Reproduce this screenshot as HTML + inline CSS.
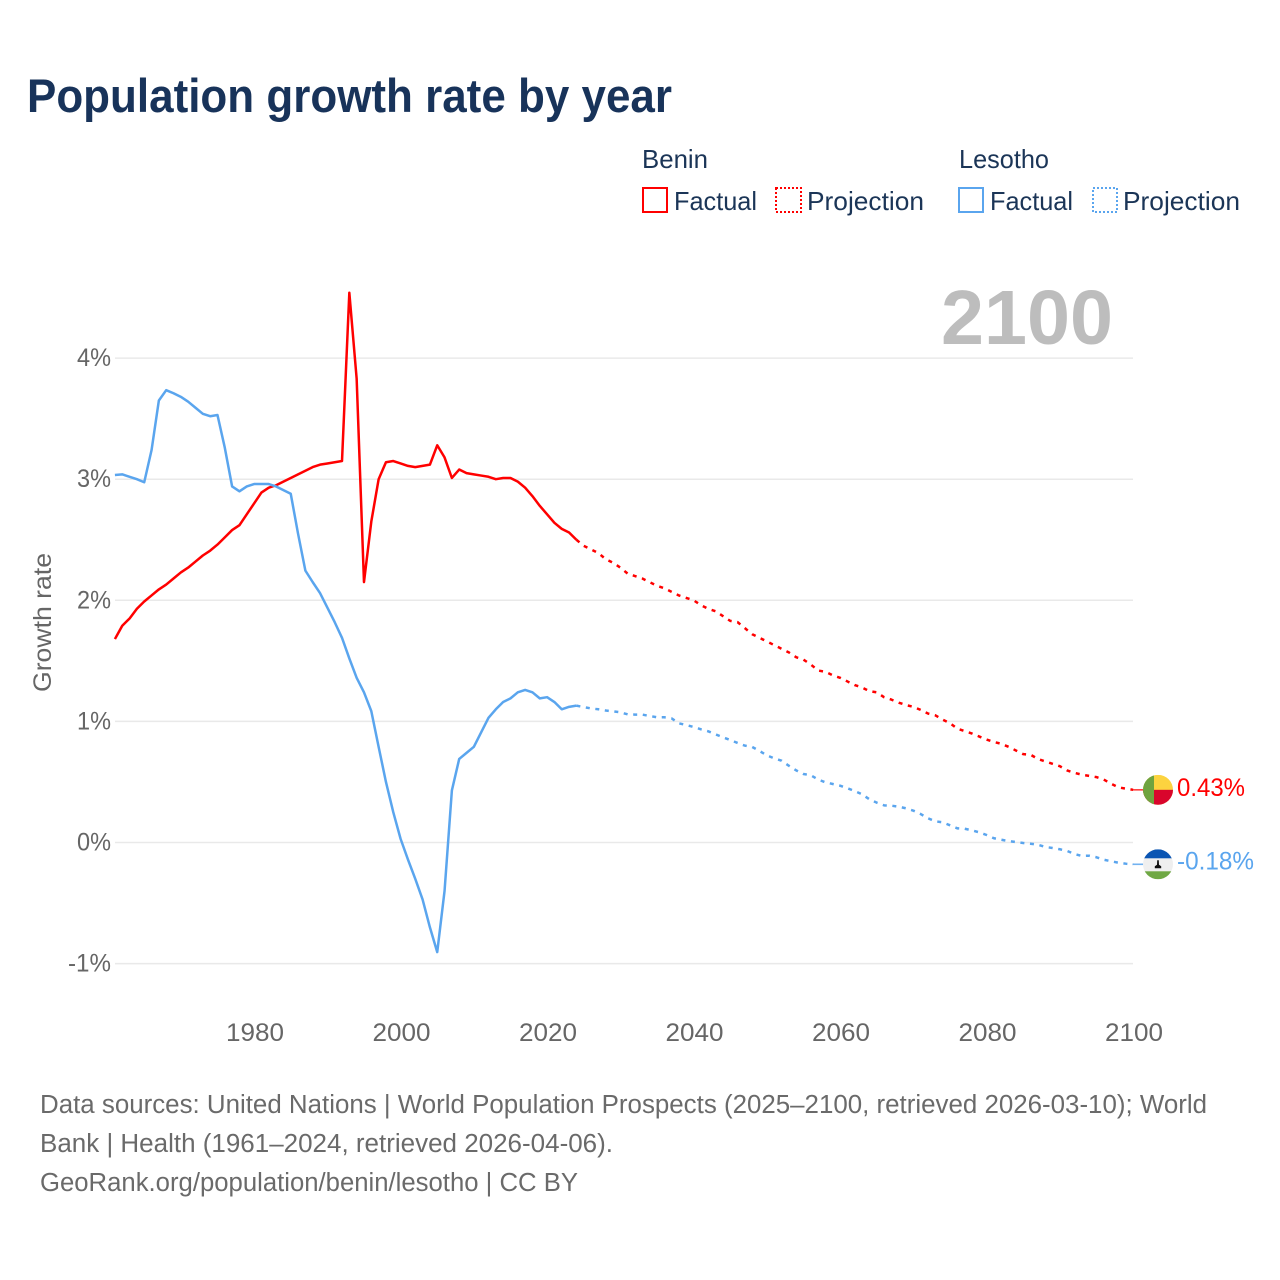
<!DOCTYPE html>
<html lang="en">
<head>
<meta charset="utf-8">
<title>Population growth rate by year</title>
<style>
html,body{margin:0;padding:0;background:#fff;}
svg{display:block;font-family:"Liberation Sans",Arial,sans-serif;}
.title{font-size:47px;font-weight:700;fill:#18335a;}
.legend{font-size:26px;fill:#1b3557;}
.muted{font-size:25px;fill:#666;}
.foot{font-size:25.5px;fill:#6a6a6a;}
</style>
</head>
<body>
<svg id="chart" xmlns="http://www.w3.org/2000/svg" width="1280" height="1280" viewBox="0 0 1280 1280">
  <defs>
    <clipPath id="flag-clip"><circle cx="0" cy="0" r="15"/></clipPath>
  </defs>
  <rect x="0" y="0" width="1280" height="1280" fill="#ffffff"/>
  <text class="title" x="27" y="112" textLength="645" lengthAdjust="spacingAndGlyphs">Population growth rate by year</text>

  <g>
    <text class="legend" x="642" y="168" textLength="66" lengthAdjust="spacingAndGlyphs">Benin</text>
    <text class="legend" x="959" y="168" textLength="90" lengthAdjust="spacingAndGlyphs">Lesotho</text>
    <rect x="643" y="188" width="24" height="24" fill="none" stroke="#ff0000" stroke-width="2"/>
    <text class="legend" x="674" y="210" textLength="83" lengthAdjust="spacingAndGlyphs">Factual</text>
    <rect x="776" y="188" width="25" height="24" fill="none" stroke="#ff0000" stroke-width="2" stroke-dasharray="2 2"/>
    <text class="legend" x="807" y="210" textLength="117" lengthAdjust="spacingAndGlyphs">Projection</text>
    <rect x="959" y="188" width="24" height="24" fill="none" stroke="#5aa5ee" stroke-width="2"/>
    <text class="legend" x="990" y="210" textLength="83" lengthAdjust="spacingAndGlyphs">Factual</text>
    <rect x="1093" y="188" width="24" height="24" fill="none" stroke="#5aa5ee" stroke-width="2" stroke-dasharray="2 2"/>
    <text class="legend" x="1123" y="210" textLength="117" lengthAdjust="spacingAndGlyphs">Projection</text>
  </g>

  <g id="grid"></g>
  <g id="yticks"></g>
  <g id="xticks"></g>

  <text x="941" y="344" font-size="77" font-weight="700" fill="#bdbdbd" textLength="172" lengthAdjust="spacingAndGlyphs">2100</text>

  <text class="muted" transform="translate(51,692) rotate(-90)" x="0" y="0" textLength="139" lengthAdjust="spacingAndGlyphs">Growth rate</text>

  <g id="series"></g>

  <g id="flag-benin">
    <g clip-path="url(#flag-clip)">
      <rect x="-15" y="-15" width="30" height="30" fill="#fcd33f"/>
      <rect x="-15" y="0" width="30" height="15" fill="#d9052c"/>
      <rect x="-15" y="-15" width="11" height="30" fill="#6fa33f"/>
    </g>
  </g>
  <g id="flag-lesotho">
    <g clip-path="url(#flag-clip)">
      <rect x="-15" y="-15" width="30" height="30" fill="#efefef"/>
      <rect x="-15" y="-15" width="30" height="9" fill="#0a55b3"/>
      <rect x="-15" y="7" width="30" height="8" fill="#6fa844"/>
      <path d="M-0.8,-4 L0.8,-4 L1,0.5 L3.2,2 L3.2,4 L-3.2,4 L-3.2,2 L-1,0.5 Z" fill="#111"/>
    </g>
  </g>
  <g id="end-labels"></g>

  <g>
    <text class="foot" x="40" y="1113" textLength="1167" lengthAdjust="spacingAndGlyphs">Data sources: United Nations | World Population Prospects (2025–2100, retrieved 2026-03-10); World</text>
    <text class="foot" x="40" y="1152" textLength="573" lengthAdjust="spacingAndGlyphs">Bank | Health (1961–2024, retrieved 2026-04-06).</text>
    <text class="foot" x="40" y="1191" textLength="538" lengthAdjust="spacingAndGlyphs">GeoRank.org/population/benin/lesotho | CC BY</text>
  </g>
</svg>
<script>
const factualStartYear = 1961;
const projectionStartYear = 2024;
const yearTicks = [1980, 2000, 2020, 2040, 2060, 2080, 2100];
const growthTicks = [4, 3, 2, 1, 0, -1];
const beninFactual = [1.68,1.79,1.85,1.93,1.99,2.04,2.09,2.13,2.18,2.23,2.27,2.32,2.37,2.41,2.46,2.52,2.58,2.62,2.71,2.80,2.89,2.93,2.95,2.98,3.01,3.04,3.07,3.10,3.12,3.13,3.14,3.15,4.54,3.83,2.15,2.65,3.00,3.14,3.15,3.13,3.11,3.10,3.11,3.12,3.28,3.18,3.01,3.08,3.05,3.04,3.03,3.02,3.00,3.01,3.01,2.98,2.93,2.86,2.78,2.71,2.64,2.59,2.56,2.50];
const lesothoFactual = [3.035,3.04,3.02,3.00,2.975,3.24,3.65,3.735,3.71,3.68,3.64,3.59,3.54,3.52,3.53,3.26,2.94,2.90,2.94,2.96,2.96,2.96,2.94,2.91,2.88,2.55,2.245,2.15,2.06,1.94,1.82,1.69,1.52,1.36,1.24,1.085,0.79,0.50,0.25,0.03,-0.14,-0.30,-0.47,-0.70,-0.905,-0.40,0.43,0.69,0.74,0.79,0.91,1.03,1.10,1.16,1.19,1.24,1.26,1.24,1.19,1.20,1.16,1.10,1.12,1.13];
const beninProjection = [2.50,2.45,2.42,2.39,2.34,2.31,2.27,2.22,2.20,2.18,2.15,2.12,2.10,2.07,2.04,2.02,2.00,1.96,1.93,1.91,1.87,1.83,1.82,1.77,1.72,1.69,1.66,1.63,1.60,1.57,1.53,1.51,1.47,1.42,1.41,1.38,1.36,1.33,1.30,1.28,1.25,1.24,1.20,1.18,1.155,1.135,1.12,1.095,1.065,1.05,1.015,0.985,0.94,0.92,0.90,0.875,0.85,0.83,0.815,0.79,0.76,0.73,0.725,0.69,0.67,0.65,0.63,0.595,0.575,0.56,0.55,0.54,0.52,0.485,0.455,0.445,0.435];
const lesothoProjection = [1.13,1.118,1.107,1.10,1.09,1.083,1.075,1.058,1.056,1.056,1.045,1.034,1.034,1.025,0.984,0.97,0.954,0.935,0.918,0.893,0.869,0.846,0.822,0.80,0.789,0.756,0.72,0.695,0.676,0.634,0.596,0.566,0.555,0.52,0.497,0.483,0.469,0.448,0.425,0.398,0.357,0.329,0.307,0.304,0.296,0.282,0.263,0.235,0.20,0.175,0.167,0.142,0.117,0.114,0.10,0.084,0.062,0.035,0.023,0.012,0.004,-0.004,-0.01,-0.018,-0.037,-0.045,-0.056,-0.07,-0.095,-0.111,-0.109,-0.122,-0.142,-0.155,-0.167,-0.175,-0.18];
const endValueLabels = ['0.43%', '-0.18%'];

const xScale = function (year) { return 1133.5 + (year - 2100) * 7.325; };
const yScale = function (value) { return 842.5 - value * 121.1; };
const NS = 'http://www.w3.org/2000/svg';
const COLORS = { benin: '#ff0000', lesotho: '#5aa5ee' };

function make(tag, parentId, attrs) {
  const el = document.createElementNS(NS, tag);
  for (const key in attrs) { el.setAttribute(key, attrs[key]); }
  document.getElementById(parentId).appendChild(el);
  return el;
}
function linePath(values, startYear) {
  return values.map(function (v, i) {
    return (i ? 'L' : 'M') + (xScale(startYear + i) - 0.4).toFixed(2) + ',' + yScale(v).toFixed(2);
  }).join(' ');
}

growthTicks.forEach(function (tick) {
  const gridline = make('line', 'grid', { x1: 115, x2: 1133, y1: yScale(tick), y2: yScale(tick), stroke: '#e9e9e9', 'stroke-width': 1.5 });
  
  
  const label = make('text', 'yticks', { x: 111, y: yScale(tick) + 8, 'text-anchor': 'end', class: 'muted', textLength: tick < 0 ? 43 : 34, lengthAdjust: 'spacingAndGlyphs' });
  
  
  label.textContent = tick + '%';
});

yearTicks.forEach(function (year) {
  const label = make('text', 'xticks', { x: xScale(year) - 28.5, y: 1041, class: 'muted', textLength: 58, lengthAdjust: 'spacingAndGlyphs' });
  
  
  label.textContent = year;
});

const lineBase = { fill: 'none', 'stroke-width': 2.5, 'stroke-linejoin': 'round' };

const beninFactualLine = make('path', 'series', Object.assign({ d: linePath(beninFactual, factualStartYear), stroke: COLORS.benin }, lineBase));



const lesothoFactualLine = make('path', 'series', Object.assign({ d: linePath(lesothoFactual, factualStartYear), stroke: COLORS.lesotho }, lineBase));



const beninProjectionLine = make('path', 'series', Object.assign({ d: linePath(beninProjection, projectionStartYear), stroke: COLORS.benin, 'stroke-dasharray': '4 5.6' }, lineBase));



const lesothoProjectionLine = make('path', 'series', Object.assign({ d: linePath(lesothoProjection, projectionStartYear), stroke: COLORS.lesotho, 'stroke-dasharray': '4 5.6' }, lineBase));



const beninEndY = yScale(beninProjection[beninProjection.length - 1]);
const lesothoEndY = yScale(lesothoProjection[lesothoProjection.length - 1]);

const beninLeader = make('line', 'series', { x1: xScale(2100) - 1, x2: 1143, y1: beninEndY, y2: beninEndY, stroke: COLORS.benin, 'stroke-width': 1.6, opacity: 0.75 });



const lesothoLeader = make('line', 'series', { x1: xScale(2100) - 1, x2: 1143, y1: lesothoEndY, y2: lesothoEndY, stroke: COLORS.lesotho, 'stroke-width': 1.6, opacity: 0.85 });



document.getElementById('flag-benin').setAttribute('transform', 'translate(1158,' + beninEndY + ')');
document.getElementById('flag-lesotho').setAttribute('transform', 'translate(1158,' + lesothoEndY + ')');

const beninEndLabel = make('text', 'end-labels', { x: 1177, y: beninEndY + 6, 'font-size': 25, fill: COLORS.benin, textLength: 68, lengthAdjust: 'spacingAndGlyphs' });


beninEndLabel.textContent = endValueLabels[0];

const lesothoEndLabel = make('text', 'end-labels', { x: 1177, y: lesothoEndY + 5, 'font-size': 25, fill: COLORS.lesotho, textLength: 77, lengthAdjust: 'spacingAndGlyphs' });


lesothoEndLabel.textContent = endValueLabels[1];
</script>
</body>
</html>
